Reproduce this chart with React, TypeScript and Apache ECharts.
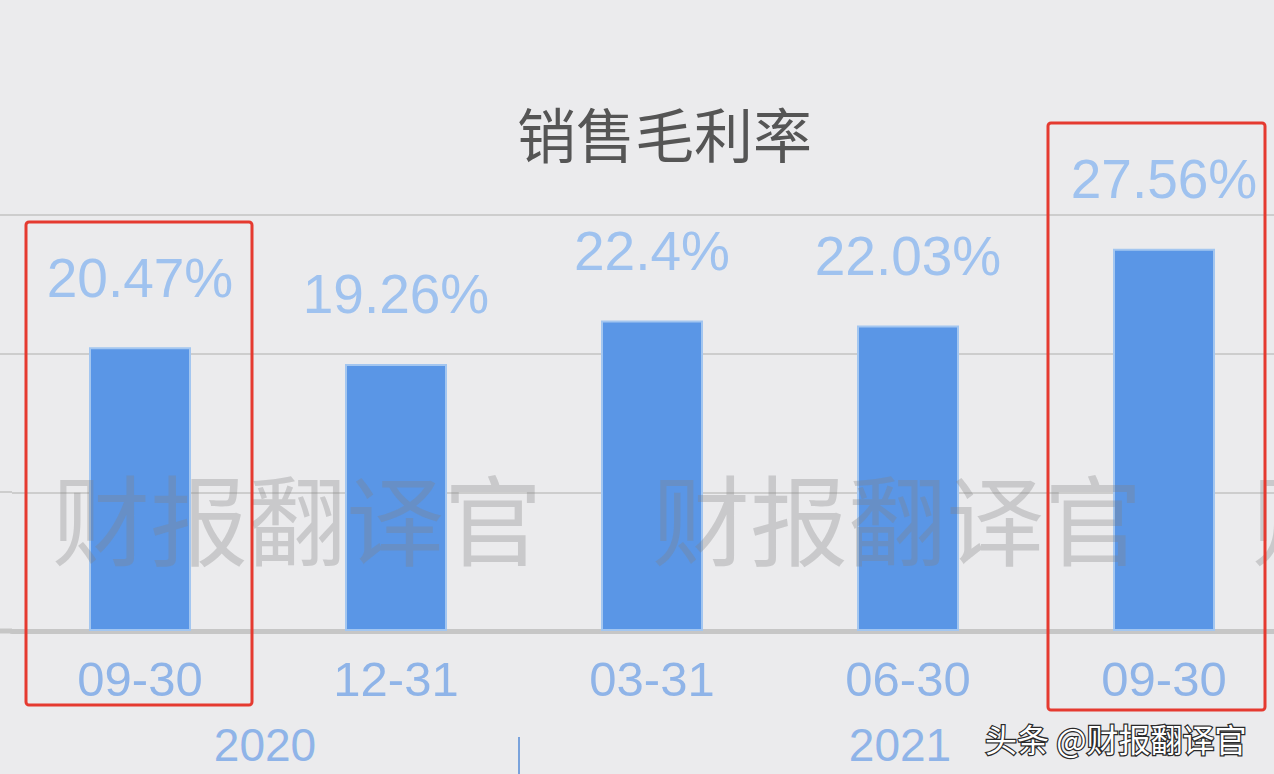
import React, { useEffect, useRef } from "react";
import * as echarts from "echarts";

const categories = ["09-30", "12-31", "03-31", "06-30", "09-30"];
const values = [20.47, 19.26, 22.4, 22.03, 27.56];
const yearGroups = [
  { label: "2020", from: 0, to: 1 },
  { label: "2021", from: 2, to: 4 },
];
const titleText = "销售毛利率";
const watermarkTexts = ["财报翻译官", "财报翻译官", "财"];
const sourceText = "头条 @财报翻译官";

export default function App() {
  const ref = useRef<HTMLDivElement>(null);

  useEffect(() => {
    if (!ref.current) return;
    const chart = echarts.init(ref.current, undefined, { renderer: "svg" });
    chart.setOption({
      animation: false,
      backgroundColor: "#ebebed",
      title: {
        text: titleText,
        left: 512,
        top: 98,
        textStyle: {
          fontSize: 59,
          fontWeight: "normal",
          color: "#555555",
          fontFamily: "Noto Sans CJK SC",
        },
      },
      grid: {
        left: 12,
        width: 1280,
        top: 215,
        height: 416,
        outerBoundsMode: "none",
        containLabel: false,
      },
      xAxis: {
        type: "category",
        data: categories,
        axisTick: { show: false },
        axisLine: { lineStyle: { color: "#c6c6c6", width: 5 } },
        axisLabel: {
          margin: 23,
          fontSize: 49,
          color: "#8fb4e8",
          fontFamily: "Liberation Sans",
        },
      },
      yAxis: {
        type: "value",
        min: 0,
        max: 30,
        interval: 10,
        axisLabel: { show: false },
        axisLine: { show: false },
        axisTick: { show: false },
        splitLine: { lineStyle: { color: "#cdcdcd", width: 2 } },
      },
      series: [
        {
          type: "bar",
          data: values,
          barWidth: 102,
          itemStyle: { color: "#5a96e6", borderColor: "#a3c6f0", borderWidth: 2 },
          label: {
            show: true,
            position: "top",
            distance: 42,
            formatter: "{c}%",
            fontSize: 55,
            color: "#9fc2ef",
            fontFamily: "Liberation Sans",
          },
        },
      ],
    });

    const px = (i: number) =>
      chart.convertToPixel({ xAxisIndex: 0 }, i) as unknown as number;

    const graphics: any[] = [];
    yearGroups.forEach((g, i) => {
      const cx = (px(g.from) + px(g.to)) / 2;
      graphics.push({
        type: "text",
        x: cx - 3 - 5 * i,
        y: 745,
        z: 50,
        style: {
          text: g.label,
          fill: "#8fb4e8",
          fontSize: 46,
          fontFamily: "Liberation Sans",
          align: "center",
          verticalAlign: "middle",
        },
      });
    });
    const divX = (px(1) + px(2)) / 2 - 5;
    graphics.push({
      type: "line",
      z: 50,
      shape: { x1: divX, y1: 737, x2: divX, y2: 774 },
      style: { stroke: "#7aa3dc", lineWidth: 2 },
    });
    [215, 354, 492].forEach((y) => {
      graphics.push({
        type: "line",
        z: 1,
        shape: { x1: 0, y1: y, x2: 12, y2: y },
        style: { stroke: "#cdcdcd", lineWidth: 2 },
      });
    });
    graphics.push({
      type: "line",
      z: 1,
      shape: { x1: 0, y1: 631, x2: 12, y2: 631 },
      style: { stroke: "#c6c6c6", lineWidth: 5 },
    });
    [52, 652, 1252].forEach((x, i) => {
      graphics.push({
        type: "text",
        x,
        y: 515,
        z: 100,
        style: {
          text: watermarkTexts[i],
          fill: "rgba(130,130,130,0.32)",
          fontSize: 98,
          fontFamily: "Noto Sans CJK SC",
          align: "left",
          verticalAlign: "middle",
        },
      });
    });
    graphics.push({
      type: "rect",
      z: 110,
      shape: { x: 26, y: 222, width: 226, height: 483, r: 3 },
      style: { fill: "none", stroke: "#e53a30", lineWidth: 3 },
    });
    graphics.push({
      type: "rect",
      z: 110,
      shape: { x: 1048, y: 123, width: 217, height: 587, r: 3 },
      style: { fill: "none", stroke: "#e53a30", lineWidth: 3 },
    });
    graphics.push({
      type: "text",
      x: 985,
      y: 738,
      z: 120,
      style: {
        text: sourceText,
        fill: "#ffffff",
        stroke: "#2a2a2a",
        lineWidth: 2.5,
        fontSize: 32,
        fontFamily: "Noto Sans CJK SC",
        align: "left",
        verticalAlign: "middle",
      },
    });
    chart.setOption({ graphic: graphics });

    return () => chart.dispose();
  }, []);

  return (
    <div
      ref={ref}
      style={{ position: "fixed", left: 0, top: 0, width: 1274, height: 774 }}
    />
  );
}
